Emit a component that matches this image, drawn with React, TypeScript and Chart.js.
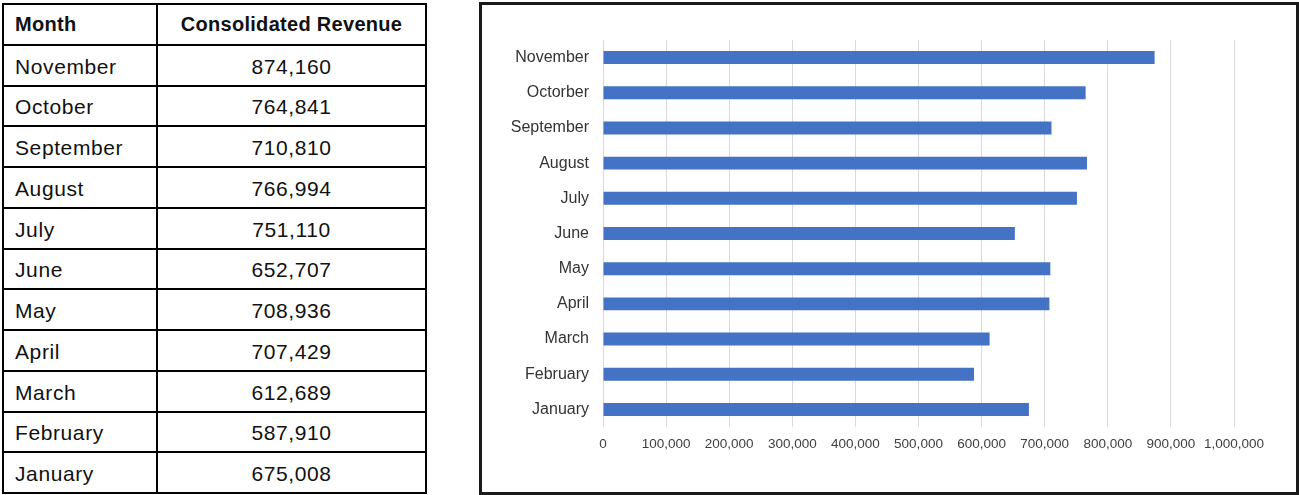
import React, { useEffect, useRef } from 'react';
import { Chart, registerables } from 'chart.js';

Chart.register(...registerables);

const tableHeaders = ['Month', 'Consolidated Revenue'];
const tableMonths = ['November', 'October', 'September', 'August', 'July', 'June', 'May', 'April', 'March', 'February', 'January'];
const chartLabels = ['November', 'Octorber', 'September', 'August', 'July', 'June', 'May', 'April', 'March', 'February', 'January'];
const revenue = [874160, 764841, 710810, 766994, 751110, 652707, 708936, 707429, 612689, 587910, 675008];
const xMin = 0;
const xMax = 1000000;
const xStep = 100000;

const fmt = (v: number) => Number(v).toLocaleString('en-US');

function RevenueChart() {
  const ref = useRef<HTMLCanvasElement | null>(null);
  useEffect(() => {
    if (!ref.current) return;
    const chart = new Chart(ref.current, {
      type: 'bar',
      data: {
        labels: chartLabels,
        datasets: [
          {
            data: revenue,
            backgroundColor: '#4472C4',
            borderWidth: 0,
            categoryPercentage: 0.8,
            barPercentage: 0.46,
          },
        ],
      },
      options: {
        indexAxis: 'y',
        responsive: false,
        animation: false,
        layout: { padding: { top: 35, right: 62, left: 0, bottom: 0 } },
        plugins: { legend: { display: false }, tooltip: { enabled: false } },
        scales: {
          y: {
            grid: { display: false },
            border: { display: false },
            ticks: {
              padding: 6,
              color: '#333333',
              font: { family: '"Liberation Sans", Arial, sans-serif', size: 16 },
            },
            afterFit: (s: any) => {
              s.width = 121;
            },
          },
          x: {
            min: xMin,
            max: xMax,
            grid: { color: '#d9d9d9', lineWidth: 1, drawTicks: false },
            border: { display: false },
            ticks: {
              stepSize: xStep,
              autoSkip: false,
              maxRotation: 0,
              padding: 9,
              color: '#404040',
              font: { family: '"Liberation Sans", Arial, sans-serif', size: 13.5 },
              callback: (v: any) => fmt(v),
            },
            afterFit: (s: any) => {
              s.height = 65;
            },
          },
        },
      },
    });
    return () => chart.destroy();
  }, []);
  return <canvas ref={ref} width={814} height={487} style={{ display: 'block', width: 814, height: 487 }} />;
}

export default function App() {
  const rowH = 40.75;
  const cellBase: React.CSSProperties = {
    border: '2px solid #000',
    height: rowH,
    padding: 0,
    paddingTop: 3,
    boxSizing: 'border-box',
    fontFamily: '"Liberation Sans", Arial, sans-serif',
    fontSize: 21,
    letterSpacing: 0.6,
    color: '#111',
  };
  return (
    <div style={{ position: 'absolute', left: 0, top: 0, width: 1299, height: 495, background: '#fff', overflow: 'hidden' }}>
      <table
        style={{
          position: 'absolute',
          left: 2,
          top: 3,
          width: 423,
          height: 490,
          borderCollapse: 'collapse',
          tableLayout: 'fixed',
        }}
      >
        <colgroup>
          <col style={{ width: 154 }} />
          <col style={{ width: 269 }} />
        </colgroup>
        <thead>
          <tr>
            <th style={{ ...cellBase, paddingTop: 0, textAlign: 'left', paddingLeft: 11, fontWeight: 'bold', fontSize: 20, letterSpacing: 0.3 }}>{tableHeaders[0]}</th>
            <th style={{ ...cellBase, paddingTop: 0, textAlign: 'center', fontWeight: 'bold', fontSize: 20, letterSpacing: 0.3 }}>{tableHeaders[1]}</th>
          </tr>
        </thead>
        <tbody>
          {tableMonths.map((m, i) => (
            <tr key={m}>
              <td style={{ ...cellBase, textAlign: 'left', paddingLeft: 11 }}>{m}</td>
              <td style={{ ...cellBase, textAlign: 'center' }}>{fmt(revenue[i])}</td>
            </tr>
          ))}
        </tbody>
      </table>
      <div
        style={{
          position: 'absolute',
          left: 479,
          top: 2,
          width: 820,
          height: 493,
          border: '3px solid #1a1a1a',
          boxSizing: 'border-box',
        }}
      >
        <RevenueChart />
      </div>
    </div>
  );
}
